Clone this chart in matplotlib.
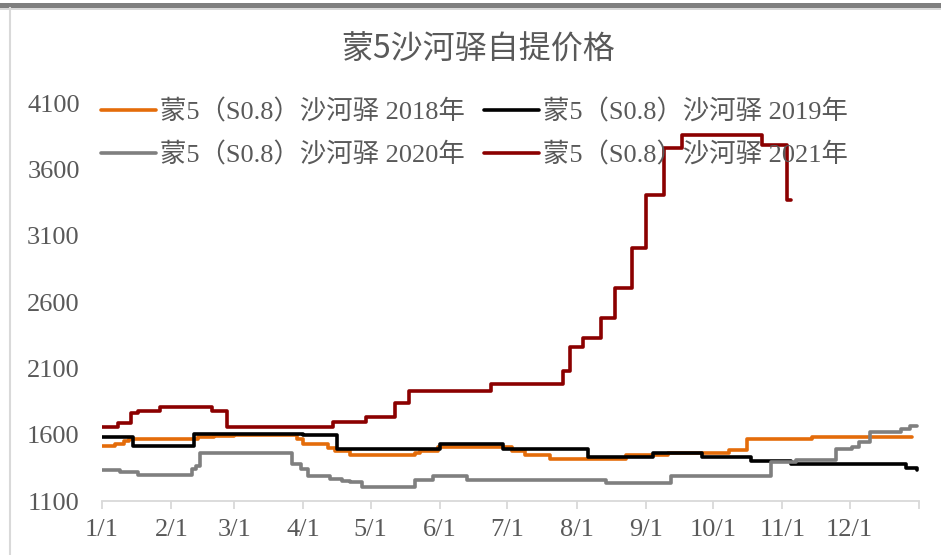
import matplotlib
matplotlib.use("Agg")
import matplotlib.pyplot as plt
from matplotlib.patches import Rectangle
from matplotlib.lines import Line2D
import pandas as pd

# ---- data (change points: date within year, price) ----
dates_2018 = ["01-01", "01-07", "01-11", "01-13", "02-13", "02-20", "03-01", "03-29", "04-01",
              "04-12", "04-15", "04-22", "05-21", "05-23", "05-31", "07-03", "07-09", "07-20",
              "08-23", "09-11", "10-08", "10-16", "11-14", "12-29"]
vals_2018 = [1515, 1530, 1555, 1570, 1580, 1590, 1598, 1570, 1530,
             1500, 1480, 1450, 1465, 1478, 1505, 1480, 1450, 1415,
             1445, 1465, 1485, 1565, 1580, 1580]

dates_2019 = ["01-01", "01-15", "02-11", "04-01", "04-16", "06-01", "06-29", "08-06",
              "09-04", "09-26", "10-18", "11-05", "12-26", "12-31"]
vals_2019 = [1585, 1515, 1605, 1595, 1490, 1530, 1490, 1430,
             1465, 1430, 1405, 1380, 1345, 1330]

dates_2020 = ["01-01", "01-09", "01-17", "02-10", "02-12", "02-14", "03-27", "03-31", "04-03",
              "04-13", "04-18", "04-22", "04-27", "05-21", "05-29", "06-13", "08-14", "09-12",
              "10-27", "11-07", "11-25", "12-02", "12-05", "12-10", "12-24", "12-28", "12-31"]
vals_2020 = [1330, 1315, 1295, 1340, 1365, 1460, 1380, 1340, 1290,
             1265, 1250, 1243, 1205, 1255, 1285, 1260, 1238, 1290,
             1392, 1408, 1490, 1505, 1545, 1620, 1640, 1668, 1668]

dates_2021 = ["01-01", "01-08", "01-14", "01-17", "01-27", "02-19", "02-26", "04-14", "04-29",
              "05-12", "05-18", "06-24", "07-26", "07-29", "08-04", "08-12", "08-18", "08-26",
              "09-01", "09-09", "09-17", "10-23", "11-03", "11-05"]
vals_2021 = [1660, 1685, 1760, 1775, 1810, 1775, 1655, 1694, 1732,
             1835, 1927, 1980, 2080, 2258, 2326, 2476, 2709, 3010,
             3409, 3762, 3860, 3785, 3371, 3371]

labels = ["蒙5（S0.8）沙河驿 2018年", "蒙5（S0.8）沙河驿 2019年",
          "蒙5（S0.8）沙河驿 2020年", "蒙5（S0.8）沙河驿 2021年"]
colors = ["#E46C0A", "#000000", "#7F7F7F", "#8B0000"]
month_ticks = ["1/1", "2/1", "3/1", "4/1", "5/1", "6/1", "7/1", "8/1", "9/1", "10/1", "11/1", "12/1"]
y_ticks = [1100, 1600, 2100, 2600, 3100, 3600, 4100]
title = "蒙5沙河驿自提价格"


def to_day(mmdd):
    return pd.Timestamp("2021-" + mmdd).dayofyear - 1


series = [(dates_2018, vals_2018), (dates_2019, vals_2019),
          (dates_2020, vals_2020), (dates_2021, vals_2021)]

latin_cjk = ["Liberation Serif", "Noto Sans CJK SC"]
grey_txt = "#595959"

fig = plt.figure(figsize=(9.41, 5.55), dpi=100)
ax = fig.add_axes([102 / 941, 1 - 501 / 555, (919 - 102) / 941, (501 - 103) / 555])

handles = []
for (d, v), c, lab in zip(series, colors, labels):
    x = [to_day(s) for s in d]
    h, = ax.plot(x, v, drawstyle="steps-post", color=c, lw=2.6, label=lab,
                 solid_joinstyle="round", solid_capstyle="round")
    handles.append(h)

ax.set_xlim(0, 365)
ax.set_ylim(1100, 4100)
tick_pos = [to_day("%02d-01" % m) for m in range(1, 13)] + [365]
ax.set_xticks(tick_pos)
ax.set_xticklabels(month_ticks + [""])
ax.set_yticks(y_ticks)
ax.set_yticklabels([str(t) for t in y_ticks])

for s in ["top", "right", "left"]:
    ax.spines[s].set_visible(False)
ax.spines["bottom"].set_color("#D9D9D9")
ax.spines["bottom"].set_linewidth(1.3)
ax.tick_params(axis="x", direction="out", length=6, width=1.3, color="#D9D9D9",
               pad=7, labelcolor=grey_txt, labelsize=19)
ax.tick_params(axis="y", length=0, pad=16, labelcolor=grey_txt, labelsize=19)
for lab in ax.get_xticklabels() + ax.get_yticklabels():
    lab.set_fontfamily(latin_cjk)

order = [0, 2, 1, 3]
leg = ax.legend([handles[i] for i in order], [labels[i] for i in order], ncol=2,
                loc="upper left", bbox_to_anchor=(101 / 941, 1 - 99 / 555),
                bbox_transform=fig.transFigure, frameon=False,
                prop={"family": latin_cjk, "size": 19}, handlelength=2.1,
                handletextpad=0.15, columnspacing=0.7, labelspacing=0.7,
                borderpad=0, borderaxespad=0)
for t in leg.get_texts():
    t.set_color(grey_txt)

fig.text(478 / 941, 1 - 50 / 555, title, ha="center", va="center",
         fontsize=23, color=grey_txt, family=["Noto Sans CJK SC", "DejaVu Sans"])

# screenshot frame
fig.patches.append(Rectangle((0, 1 - 8 / 555), 1, 5 / 555, transform=fig.transFigure,
                             facecolor="#7F7F7F", edgecolor="none", zorder=0))
fig.patches.append(Rectangle((0, 1 - 10 / 555), 1, 2 / 555, transform=fig.transFigure,
                             facecolor="#D9D9D9", edgecolor="none", zorder=0))
fig.lines.append(Line2D([10 / 941, 10 / 941], [0, 1 - 8 / 555], transform=fig.transFigure,
                        color="#D9D9D9", lw=1.5))

fig.savefig("out.png", dpi=100)
